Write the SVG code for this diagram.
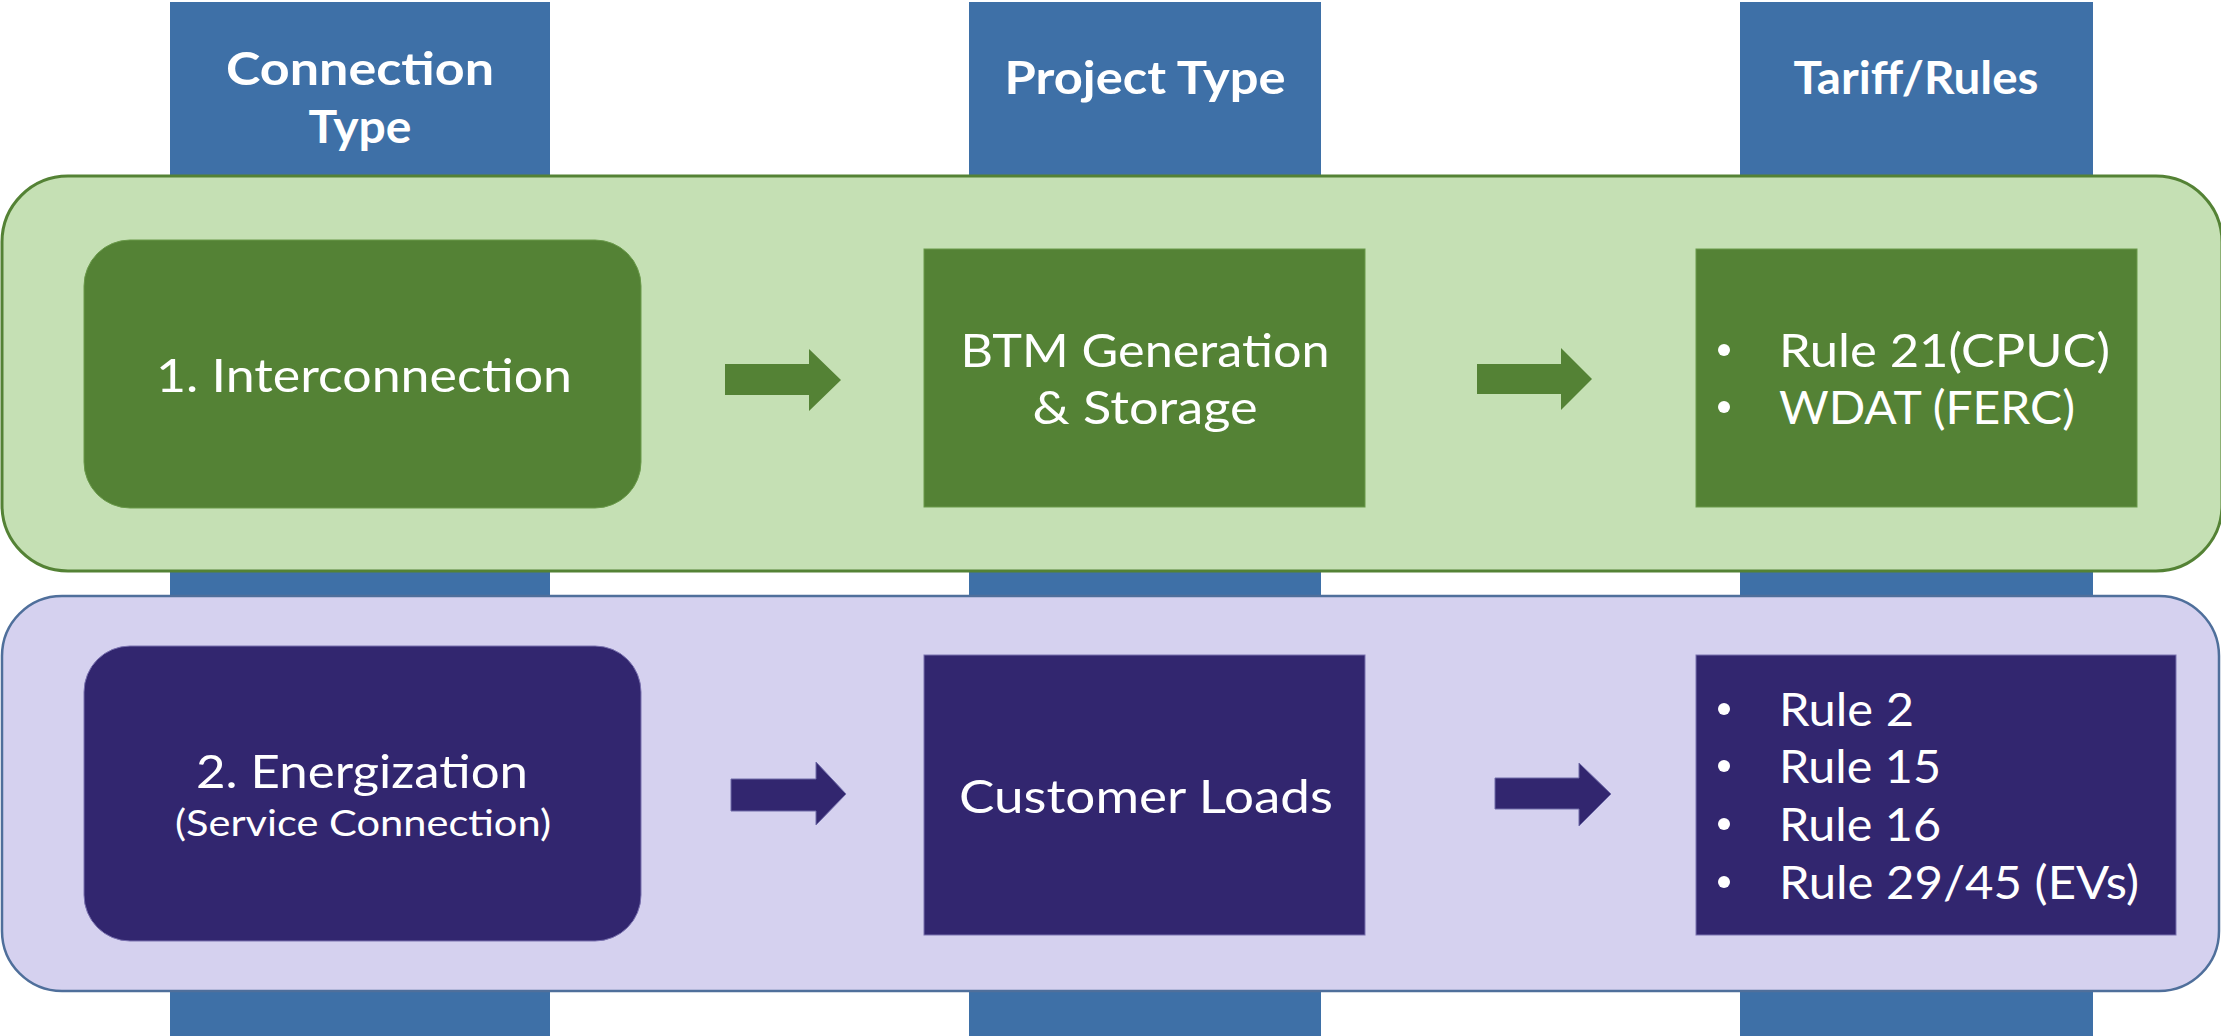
<svg xmlns="http://www.w3.org/2000/svg" width="2221" height="1036" viewBox="0 0 2221 1036">
<style>
.col{fill:#3E70A7}
.hdr{font-family:Lato,"Liberation Sans",sans-serif;font-weight:bold;font-size:46px;fill:#ffffff;text-anchor:middle}
.txt{font-family:Lato,"Liberation Sans",sans-serif;font-size:46px;fill:#ffffff}
.mid{text-anchor:middle}
.small{font-size:37px}
.gband{fill:#C5E0B4;stroke:#548235;stroke-width:3}
.pband{fill:#D5D1EF;stroke:#4F6F9B;stroke-width:2.5}
.gbox{fill:#548235;stroke:#6A9A4A;stroke-width:1}
.pbox{fill:#32266F;stroke:#7A72B0;stroke-width:1}
.garrow{fill:#548235}
.parrow{fill:#32266F;stroke:#6E6AA8;stroke-width:1}
.dot{fill:#ffffff}
</style>
<rect width="2221" height="1036" fill="#ffffff"/>
<g id="columns">
<rect class="col" x="170" y="2" width="380" height="1034"/>
<rect class="col" x="969" y="2" width="352" height="1034"/>
<rect class="col" x="1740" y="2" width="353" height="1034"/>
</g>
<g id="headers">
<text class="hdr" x="360" y="85" textLength="268" lengthAdjust="spacingAndGlyphs">Connection</text>
<text class="hdr" x="360" y="143" textLength="103" lengthAdjust="spacingAndGlyphs">Type</text>
<text class="hdr" x="1145" y="94" textLength="281" lengthAdjust="spacingAndGlyphs">Project Type</text>
<text class="hdr" x="1916" y="94" textLength="245" lengthAdjust="spacingAndGlyphs">Tariff/Rules</text>
</g>
<g id="band-interconnection">
<rect class="gband" x="2" y="176" width="2220" height="395" rx="66" ry="66"/>
</g>
<g id="band-energization">
<rect class="pband" x="2" y="596" width="2217" height="395" rx="60" ry="60"/>
</g>
<g id="node-interconnection">
<rect class="gbox" x="84" y="240" width="557" height="268" rx="46" ry="46"/>
<text class="txt mid" x="364" y="392" textLength="416" lengthAdjust="spacingAndGlyphs">1. Interconnection</text>
</g>
<g id="node-btm">
<rect class="gbox" x="924" y="249" width="441" height="258"/>
<text class="txt mid" x="1145" y="367" textLength="369" lengthAdjust="spacingAndGlyphs">BTM Generation</text>
<text class="txt mid" x="1145" y="424" textLength="225" lengthAdjust="spacingAndGlyphs">&amp; Storage</text>
</g>
<g id="node-rules-green">
<rect class="gbox" x="1696" y="249" width="441" height="258"/>
<circle class="dot" cx="1724" cy="350" r="6"/>
<text class="txt" x="1779" y="367" textLength="331" lengthAdjust="spacingAndGlyphs">Rule 21(CPUC)</text>
<circle class="dot" cx="1724" cy="407" r="6"/>
<text class="txt" x="1779" y="424" textLength="296" lengthAdjust="spacingAndGlyphs">WDAT (FERC)</text>
</g>
<g id="node-energization">
<rect class="pbox" x="84" y="646" width="557" height="295" rx="46" ry="46"/>
<text class="txt mid" x="362" y="788" textLength="332" lengthAdjust="spacingAndGlyphs">2. Energization</text>
<text class="txt mid small" x="363" y="836" textLength="376" lengthAdjust="spacingAndGlyphs">(Service Connection)</text>
</g>
<g id="node-loads">
<rect class="pbox" x="924" y="655" width="441" height="280"/>
<text class="txt mid" x="1146" y="813" textLength="374" lengthAdjust="spacingAndGlyphs">Customer Loads</text>
</g>
<g id="node-rules-purple">
<rect class="pbox" x="1696" y="655" width="480" height="280"/>
<circle class="dot" cx="1724" cy="709" r="6"/>
<text class="txt" x="1779" y="726" textLength="135" lengthAdjust="spacingAndGlyphs">Rule 2</text>
<circle class="dot" cx="1724" cy="766" r="6"/>
<text class="txt" x="1779" y="783" textLength="162" lengthAdjust="spacingAndGlyphs">Rule 15</text>
<circle class="dot" cx="1724" cy="824" r="6"/>
<text class="txt" x="1779" y="841" textLength="162" lengthAdjust="spacingAndGlyphs">Rule 16</text>
<circle class="dot" cx="1724" cy="882" r="6"/>
<text class="txt" x="1779" y="899" textLength="360" lengthAdjust="spacingAndGlyphs">Rule 29/45 (EVs)</text>
</g>
<g id="connectors">
<polygon class="garrow" points="725,364 809,364 809,349 841,380 809,411 809,395 725,395"/>
<polygon class="garrow" points="1477,364 1561,364 1561,348 1592,379 1561,410 1561,394 1477,394"/>
<polygon class="parrow" points="731,779 816,779 816,762 846,794 816,825 816,811 731,811"/>
<polygon class="parrow" points="1495,778 1579,778 1579,763 1611,794 1579,826 1579,809 1495,809"/>
</g>
</svg>
